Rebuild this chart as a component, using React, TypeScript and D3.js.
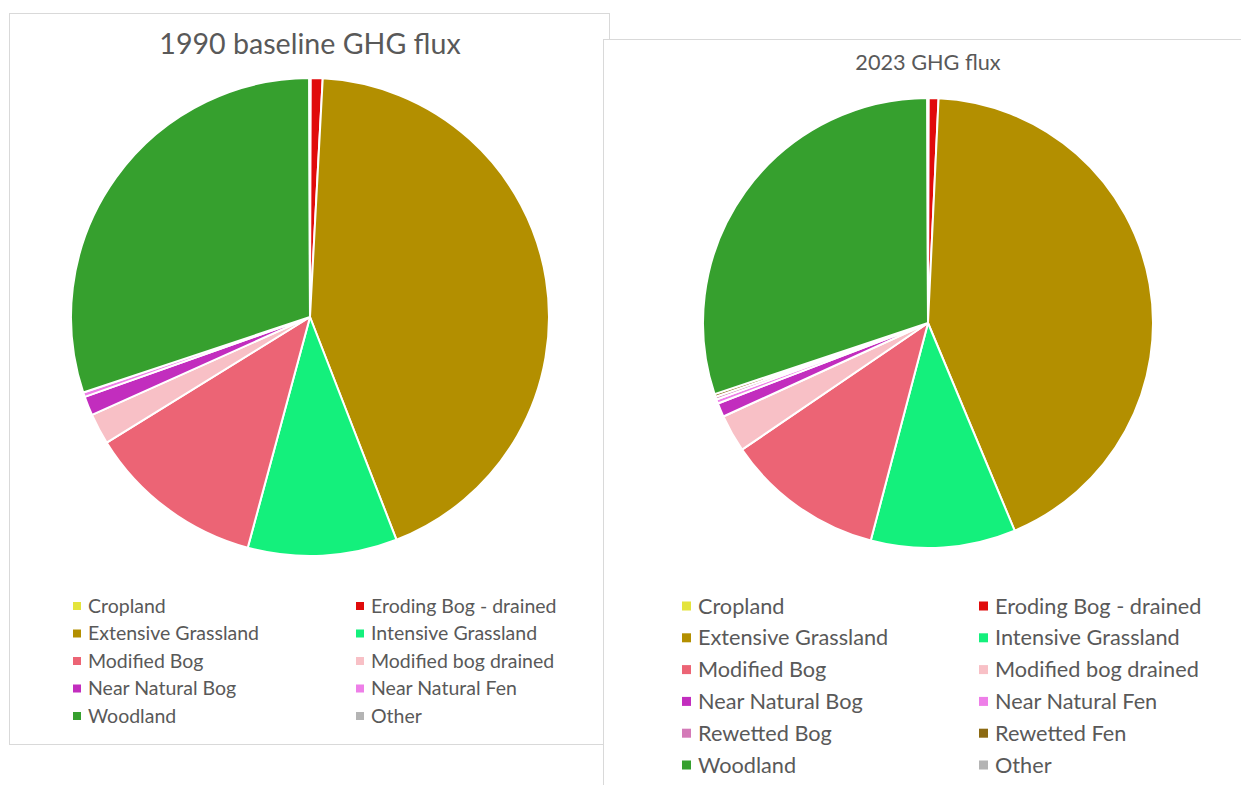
import React from "react";
import * as d3 from "d3";

const categories1990 = [
  "Cropland", "Eroding Bog - drained", "Extensive Grassland", "Intensive Grassland",
  "Modified Bog", "Modified bog drained", "Near Natural Bog", "Near Natural Fen",
  "Woodland", "Other",
];
const values1990 = [0.05, 0.8, 43.3, 10.1, 12.0, 2.1, 1.3, 0.3, 30.1, 0.05];

const categories2023 = [
  "Cropland", "Eroding Bog - drained", "Extensive Grassland", "Intensive Grassland",
  "Modified Bog", "Modified bog drained", "Near Natural Bog", "Near Natural Fen",
  "Rewetted Bog", "Rewetted Fen", "Woodland", "Other",
];
const values2023 = [0.05, 0.7, 43.0, 10.4, 11.4, 2.7, 1.0, 0.3, 0.2, 0.2, 30.1, 0.05];

const colorOf: Record<string, string> = {
  "Cropland": "#e4e43c",
  "Eroding Bog - drained": "#e00b0b",
  "Extensive Grassland": "#b38f00",
  "Intensive Grassland": "#14f07c",
  "Modified Bog": "#ec6475",
  "Modified bog drained": "#f8c0c6",
  "Near Natural Bog": "#c22dbe",
  "Near Natural Fen": "#ee7fe8",
  "Rewetted Bog": "#d47ab8",
  "Rewetted Fen": "#8c6a12",
  "Woodland": "#36a02e",
  "Other": "#b4b4b4",
};

const FONT = "Lato, 'Open Sans', sans-serif";
const TEXT = "#595959";

type PanelProps = {
  x: number; y: number; w: number; h: number;
  title: string; titleY: number; titleSize: number;
  cats: string[]; vals: number[];
  cx: number; cy: number; r: number;
  legX: number[]; legY0: number; legDy: number; legSize: number; sw: number;
};

function Panel(p: PanelProps) {
  const data = p.cats.map((c, i) => ({ c, v: p.vals[i] }));
  const pie = d3.pie<{ c: string; v: number }>().sort(null).value((d) => d.v);
  const arc = d3.arc<d3.PieArcDatum<{ c: string; v: number }>>().innerRadius(0).outerRadius(p.r);
  const arcs = pie(data);
  const sw = p.sw;
  return (
    <g>
      <rect x={p.x} y={p.y} width={p.w} height={p.h} fill="#ffffff" stroke="#d9d9d9" strokeWidth={1} />
      <text x={p.cx} y={p.titleY} textAnchor="middle" fontFamily={FONT} fontSize={p.titleSize} fill={TEXT}>
        {p.title}
      </text>
      <g transform={`translate(${p.cx},${p.cy})`}>
        {arcs.map((a, i) => (
          <path key={i} d={arc(a) || ""} fill={colorOf[a.data.c]} stroke="#ffffff" strokeWidth={2} strokeLinejoin="round" />
        ))}
      </g>
      {p.cats.map((c, i) => {
        const col = i % 2;
        const row = Math.floor(i / 2);
        const lx = p.legX[col];
        const ly = p.legY0 + row * p.legDy;
        return (
          <g key={c}>
            <rect x={lx} y={ly - sw / 2} width={sw} height={sw} fill={colorOf[c]} />
            <text x={lx + sw + 7} y={ly} dy="0.35em" fontFamily={FONT} fontSize={p.legSize} fill={TEXT}>
              {c}
            </text>
          </g>
        );
      })}
    </g>
  );
}

export default function App() {
  return (
    <svg width={1241} height={785} style={{ position: "absolute", left: 0, top: 0, background: "#ffffff" }}>
      <Panel
        x={9.5} y={13.5} w={600} h={731}
        title="1990 baseline GHG flux" titleY={54} titleSize={28.6}
        cats={categories1990} vals={values1990}
        cx={310} cy={317} r={239}
        legX={[73, 356]} legY0={606} legDy={27.5} legSize={19.5} sw={8}
      />
      <Panel
        x={603.5} y={39.5} w={650} h={760}
        title="2023 GHG flux" titleY={70} titleSize={21.7}
        cats={categories2023} vals={values2023}
        cx={928} cy={323} r={225}
        legX={[682, 979]} legY0={606} legDy={31.8} legSize={21.7} sw={9}
      />
    </svg>
  );
}
